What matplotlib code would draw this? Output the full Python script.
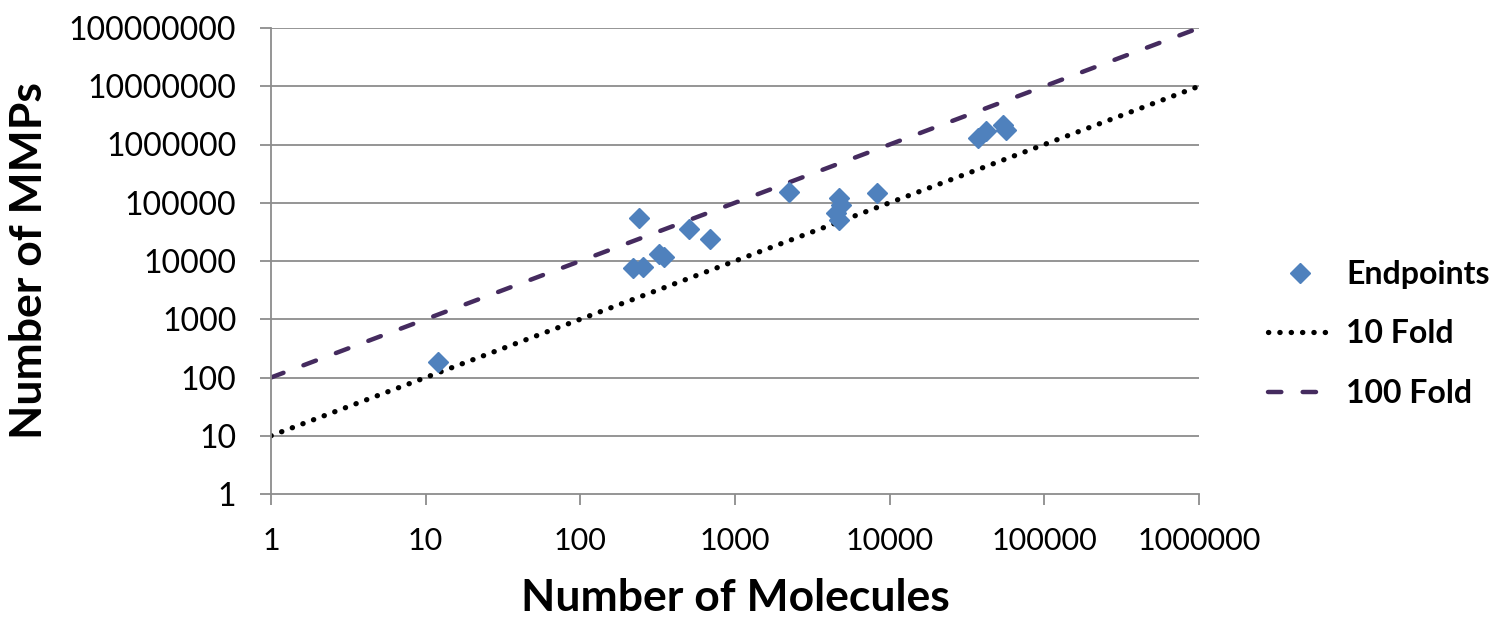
import matplotlib
matplotlib.use("Agg")
import matplotlib.pyplot as plt
import numpy as np
from matplotlib.ticker import FixedLocator, FixedFormatter, NullLocator

# Data
molecules = [12, 241, 220, 253, 324, 347, 501, 689, 2245, 4720, 4845, 4500, 4720, 8240,
             37250, 41950, 54000, 56500]
mmps = [185, 55400, 7500, 7980, 13200, 11600, 35000, 23900, 155000, 119000, 91500, 65900,
        50600, 149000, 1294000, 1706000, 2160000, 1770000]
line_x = [1, 1000000]
fold10 = [10 * v for v in line_x]
fold100 = [100 * v for v in line_x]
xticks = [1, 10, 100, 1000, 10000, 100000, 1000000]
yticks = [1, 10, 100, 1000, 10000, 100000, 1000000, 10000000, 100000000]

plt.rcParams['font.family'] = ['Lato', 'DejaVu Sans']

W, H = 1508, 619
fig = plt.figure(figsize=(W / 100, H / 100), dpi=100)
ax = fig.add_axes([271 / W, 1 - 494 / H, (1199 - 271) / W, (494 - 28) / H])

ax.set_xscale('log')
ax.set_yscale('log')
ax.set_xlim(1, 1000000)
ax.set_ylim(1, 100000000)

grid_c = '#8c8c8c'
for yv in yticks[1:]:
    ax.axhline(yv, color=grid_c, lw=1.3, zorder=0)

ax.plot(molecules, mmps, linestyle='none', marker='D', ms=10.5, color='#4f81bd',
        label='Endpoints', zorder=3)
ax.plot(line_x, fold10, color='black', lw=3.8, linestyle=(0, (0.05, 2.1)),
        dash_capstyle='round', label='10 Fold', zorder=2)
ax.plot(line_x, fold100, color='#452b5f', lw=3.2, linestyle=(0, (3.0, 4.8)),
        dash_capstyle='round', label='100 Fold', zorder=2)

for s in ['top', 'right']:
    ax.spines[s].set_visible(False)
for s in ['left', 'bottom']:
    ax.spines[s].set_color(grid_c)
    ax.spines[s].set_linewidth(1.3)

ax.xaxis.set_major_locator(FixedLocator(xticks))
ax.xaxis.set_major_formatter(FixedFormatter([str(v) for v in xticks]))
ax.xaxis.set_minor_locator(NullLocator())
ax.yaxis.set_major_locator(FixedLocator(yticks))
ax.yaxis.set_major_formatter(FixedFormatter([str(v) for v in yticks]))
ax.yaxis.set_minor_locator(NullLocator())
ax.tick_params(axis='both', direction='out', length=8, width=1.3, color=grid_c,
               labelcolor='black')
ax.tick_params(axis='x', pad=16, labelsize=22)
ax.tick_params(axis='y', pad=17, labelsize=23)

ax.set_xlabel('Number of Molecules', fontsize=32, fontweight='bold', labelpad=16)
ax.set_ylabel('Number of MMPs', fontsize=32, fontweight='bold')
ax.yaxis.set_label_coords(-(271 - 49) / (1199 - 271), 0.5)

leg = fig.legend(loc='upper left', bbox_to_anchor=(1268 / W, 1 - 260 / H), frameon=False,
                 prop={'weight': 'bold', 'size': 23}, handlelength=2.0,
                 labelspacing=0.95, handletextpad=0.45, borderpad=0, borderaxespad=0)

fig.savefig('out.png', dpi=100)
